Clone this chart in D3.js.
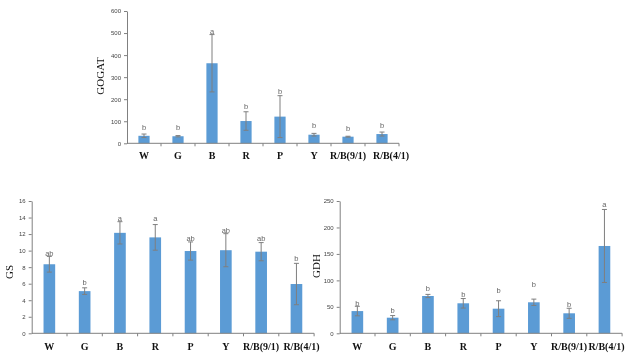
<!DOCTYPE html>
<html><head><meta charset="utf-8">
<script src="https://cdn.jsdelivr.net/npm/d3@7"></script>
<style>body{margin:0;background:#fff}svg{display:block;will-change:transform}</style>
</head><body>
<svg id="c" width="628" height="354"></svg>
<script>
const categories = ["W","G","B","R","P","Y","R/B(9/1)","R/B(4/1)"];

const gogatValues = [34, 32, 363, 101, 121, 39, 30, 42];
const gogatErrors = [8, 3, 130, 42, 95, 6, 2, 9];
const gogatLetters = ["b","b","a","b","b","b","b","b"];
const gogatLetterY = [60, 60, 494, 154, 224, 68, 57, 68];
const gogatTicks = [0,100,200,300,400,500,600];

const gsValues = [8.35, 5.1, 12.15, 11.6, 9.95, 10.05, 9.87, 5.96];
const gsErrors = [0.95, 0.4, 1.35, 1.55, 1.1, 2.0, 1.1, 2.5];
const gsLetters = ["ab","b","a","a","ab","ab","ab","b"];
const gsLetterY = [9.35, 5.84, 13.58, 13.58, 11.16, 12.17, 11.16, 8.78];
const gsTicks = [0,2,4,6,8,10,12,14,16];

const gdhValues = [42, 29.5, 70.5, 56.7, 46.5, 58.6, 37.8, 165];
const gdhErrors = [9, 4, 3, 9, 15, 6, 9.5, 69];
const gdhLetters = ["b","b","b","b","b","b","b","a"];
const gdhLetterY = [51.6, 39, 80.5, 68, 76.7, 87, 49, 238];
const gdhTicks = [0,50,100,150,200,250];

const svg = d3.select("#c");
const barColor = "#5b9bd5";
const axisColor = "#808080";

function panel(o){
  const g = svg.append("g");
  const x = d3.scaleBand().domain(categories).range([o.left, o.left + o.width]).paddingInner(0.67).paddingOuter(0.335);
  const y = d3.scaleLinear().domain([0, o.max]).range([o.bottom, o.top]);

  g.selectAll("rect.bar").data(o.values).join("rect")
    .attr("x", (d,i)=>x(categories[i]))
    .attr("y", d=>y(d))
    .attr("width", x.bandwidth())
    .attr("height", d=>o.bottom - y(d))
    .attr("fill", barColor);

  const cx = i => x(categories[i]) + x.bandwidth()/2;
  const eg = g.append("g").attr("stroke", "#7f7f7f").attr("stroke-width", 1).attr("fill","none");
  o.values.forEach((v,i)=>{
    const e = o.errors[i];
    const yt = y(v+e), yb = y(Math.max(0, v-e));
    eg.append("line").attr("x1", cx(i)).attr("x2", cx(i)).attr("y1", yt).attr("y2", yb);
    eg.append("line").attr("x1", cx(i)-2.5).attr("x2", cx(i)+2.5).attr("y1", yt).attr("y2", yt);
    eg.append("line").attr("x1", cx(i)-2.5).attr("x2", cx(i)+2.5).attr("y1", yb).attr("y2", yb);
  });

  g.selectAll("text.let").data(o.letters).join("text")
    .attr("x", (d,i)=>cx(i))
    .attr("y", (d,i)=>y(o.letterY[i]))
    .attr("text-anchor","middle")
    .attr("font-family","Liberation Sans, Arial, sans-serif")
    .attr("font-size", 7.5)
    .attr("fill","#666")
    .text(d=>d);

  const ya = g.append("g").attr("transform", `translate(${o.left},0)`)
    .call(d3.axisLeft(y).tickValues(o.ticks).tickSize(3).tickPadding(3).tickSizeOuter(0));
  ya.select(".domain").attr("stroke", axisColor);
  ya.selectAll(".tick line").attr("stroke", axisColor);
  ya.selectAll(".tick text").attr("font-family","Liberation Sans, Arial, sans-serif").attr("font-size", 6).attr("fill","#444");

  const xa = g.append("g");
  xa.append("line").attr("x1", o.left).attr("x2", o.left + o.width).attr("y1", o.bottom).attr("y2", o.bottom).attr("stroke", axisColor);
  const step = x.step();
  categories.forEach((c,i)=>{
    const bx = x(c) - (step - x.bandwidth())/2 + step;
    xa.append("line").attr("x1", bx).attr("x2", bx).attr("y1", o.bottom).attr("y2", o.bottom+3).attr("stroke", axisColor);
  });

  g.selectAll("text.cat").data(categories).join("text")
    .attr("x", (d,i)=>cx(i) + (i === categories.length-1 ? o.lastShift : 0))
    .attr("y", o.labelBase)
    .attr("text-anchor","middle")
    .attr("font-family","Liberation Serif, Times New Roman, serif")
    .attr("font-weight","bold")
    .attr("font-size", 10)
    .attr("fill","#111")
    .text(d=>d);

  g.append("text")
    .attr("transform", `translate(${o.titleX},${o.titleY}) rotate(-90)`)
    .attr("text-anchor","middle")
    .attr("dominant-baseline","central")
    .attr("font-family","Liberation Serif, Times New Roman, serif")
    .attr("font-size", 11)
    .attr("fill","#111")
    .text(o.title);
}

panel({left:127, width:272, top:11, bottom:143.3, max:600, ticks:gogatTicks,
  values:gogatValues, errors:gogatErrors, letters:gogatLetters, letterY:gogatLetterY,
  labelBase:159, lastShift:9, title:"GOGAT", titleX:100, titleY:76});
panel({left:31.7, width:282.4, top:201, bottom:333.3, max:16, ticks:gsTicks,
  values:gsValues, errors:gsErrors, letters:gsLetters, letterY:gsLetterY,
  labelBase:350, lastShift:5, title:"GS", titleX:9, titleY:272});
panel({left:339.7, width:282.4, top:201, bottom:333.3, max:250, ticks:gdhTicks,
  values:gdhValues, errors:gdhErrors, letters:gdhLetters, letterY:gdhLetterY,
  labelBase:350, lastShift:2, title:"GDH", titleX:316, titleY:266});
</script>
</body></html>
